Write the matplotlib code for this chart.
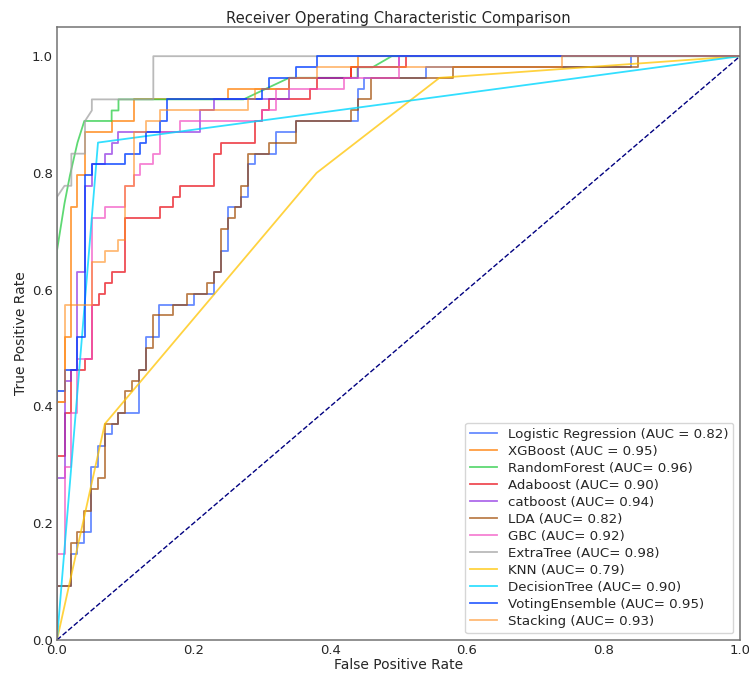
import matplotlib
matplotlib.use('Agg')
import matplotlib.pyplot as plt

# ROC points (fpr, tpr)
# staircase curves: each point is the top-left corner of a step (drawn steps-post)
lr_fpr = [0, 0, 0.02, 0.03, 0.04, 0.05, 0.06, 0.07, 0.08, 0.09, 0.12, 0.13, 0.15, 0.20, 0.23, 0.24, 0.25, 0.27, 0.28, 0.29, 0.32, 0.35, 0.44, 0.45, 0.54, 0.84, 1.0]
lr_tpr = [0, 0.092, 0.147, 0.166, 0.184, 0.296, 0.333, 0.352, 0.370, 0.389, 0.463, 0.519, 0.574, 0.593, 0.630, 0.667, 0.741, 0.759, 0.815, 0.833, 0.870, 0.889, 0.944, 0.963, 0.981, 1.0, 1.0]

xgb_fpr = [0, 0, 0.011, 0.021, 0.030, 0.041, 0.080, 0.112, 0.251, 0.340, 0.430, 0.440, 1.0]
xgb_tpr = [0, 0.407, 0.519, 0.741, 0.796, 0.870, 0.889, 0.926, 0.944, 0.963, 0.981, 1.0, 1.0]

ada_fpr = [0, 0, 0.011, 0.021, 0.041, 0.051, 0.061, 0.070, 0.080, 0.100, 0.151, 0.170, 0.180, 0.230, 0.240, 0.290, 0.300, 0.311, 0.370, 0.380, 0.430, 0.511, 1.0]
ada_tpr = [0, 0.315, 0.389, 0.463, 0.481, 0.574, 0.593, 0.611, 0.630, 0.722, 0.741, 0.759, 0.778, 0.833, 0.852, 0.889, 0.907, 0.926, 0.944, 0.963, 0.981, 1.0, 1.0]

cat_fpr = [0, 0, 0.011, 0.021, 0.030, 0.041, 0.051, 0.070, 0.080, 0.090, 0.210, 0.230, 0.340, 0.440, 0.500, 1.0]
cat_tpr = [0, 0.278, 0.444, 0.463, 0.630, 0.778, 0.815, 0.833, 0.852, 0.870, 0.907, 0.926, 0.963, 0.981, 1.0, 1.0]

lda_fpr = [0, 0, 0.02, 0.03, 0.04, 0.05, 0.06, 0.07, 0.09, 0.10, 0.11, 0.12, 0.13, 0.14, 0.17, 0.19, 0.22, 0.23, 0.24, 0.25, 0.26, 0.27, 0.28, 0.31, 0.35, 0.43, 0.44, 0.46, 0.58, 0.85, 1.0]
lda_tpr = [0, 0.092, 0.166, 0.184, 0.221, 0.258, 0.278, 0.370, 0.389, 0.426, 0.444, 0.463, 0.500, 0.556, 0.574, 0.593, 0.611, 0.630, 0.704, 0.722, 0.741, 0.778, 0.833, 0.852, 0.889, 0.907, 0.926, 0.963, 0.981, 1.0, 1.0]

gbc_fpr = [0, 0, 0.011, 0.021, 0.030, 0.051, 0.070, 0.100, 0.112, 0.121, 0.141, 0.151, 0.180, 0.300, 0.321, 0.420, 0.500, 1.0]
gbc_tpr = [0, 0.147, 0.296, 0.389, 0.481, 0.722, 0.741, 0.778, 0.796, 0.815, 0.833, 0.870, 0.889, 0.907, 0.944, 0.963, 1.0, 1.0]

vote_fpr = [0, 0, 0.011, 0.030, 0.041, 0.051, 0.100, 0.121, 0.131, 0.151, 0.161, 0.300, 0.311, 0.350, 0.380, 1.0]
vote_tpr = [0, 0.426, 0.463, 0.519, 0.796, 0.815, 0.833, 0.852, 0.870, 0.889, 0.926, 0.944, 0.963, 0.981, 1.0, 1.0]

stack_fpr = [0, 0, 0.011, 0.051, 0.070, 0.090, 0.100, 0.112, 0.131, 0.151, 0.280, 0.290, 0.340, 0.380, 0.740, 1.0]
stack_tpr = [0, 0.407, 0.574, 0.648, 0.667, 0.685, 0.778, 0.870, 0.889, 0.907, 0.926, 0.944, 0.963, 0.981, 1.0, 1.0]

# curves with sloped pieces (ties in the scores), drawn point to point
rf_fpr = [0, 0, 0.011, 0.019, 0.030, 0.040, 0.080, 0.080, 0.090, 0.090, 0.273, 0.340, 0.440, 0.440, 0.462, 0.490, 1.0]
rf_tpr = [0, 0.667, 0.748, 0.796, 0.852, 0.889, 0.889, 0.907, 0.907, 0.926, 0.926, 0.963, 0.963, 0.981, 0.981, 1.0, 1.0]

et_fpr = [0, 0, 0.011, 0.021, 0.021, 0.041, 0.041, 0.051, 0.051, 0.141, 0.141, 1.0]
et_tpr = [0, 0.759, 0.778, 0.778, 0.833, 0.833, 0.889, 0.907, 0.926, 0.926, 1.0, 1.0]

knn_fpr = [0, 0.07, 0.38, 0.56, 1.0]
knn_tpr = [0, 0.37, 0.80, 0.963, 1.0]

dt_fpr = [0, 0.06, 1.0]
dt_tpr = [0, 0.852, 1.0]

labels = ['Logistic Regression (AUC = 0.82)', 'XGBoost (AUC = 0.95)', 'RandomForest (AUC= 0.96)',
          'Adaboost (AUC= 0.90)', 'catboost (AUC= 0.94)', 'LDA (AUC= 0.82)', 'GBC (AUC= 0.92)',
          'ExtraTree (AUC= 0.98)', 'KNN (AUC= 0.79)', 'DecisionTree (AUC= 0.90)',
          'VotingEnsemble (AUC= 0.95)', 'Stacking (AUC= 0.93)']

plt.rcParams['font.family'] = 'DejaVu Sans'
plt.rcParams['font.size'] = 10
plt.rcParams['text.color'] = '0.15'
plt.rcParams['axes.labelcolor'] = '0.15'
plt.rcParams['xtick.color'] = '0.15'
plt.rcParams['ytick.color'] = '0.15'

fig = plt.figure(figsize=(7.49, 6.75), dpi=100)
ax = fig.add_axes([0.0761, 0.052, 0.912, 0.908])

lw = 1.3
ax.plot(lr_fpr, lr_tpr, drawstyle='steps-post', color='#023eff', alpha=0.6, lw=lw, label=labels[0])
ax.plot(xgb_fpr, xgb_tpr, drawstyle='steps-post', color='#ff7c00', alpha=0.75, lw=lw, label=labels[1])
ax.plot(rf_fpr, rf_tpr, color='#1ac938', alpha=0.7, lw=lw, label=labels[2])
ax.plot(ada_fpr, ada_tpr, drawstyle='steps-post', color='#e8000b', alpha=0.7, lw=lw, label=labels[3])
ax.plot(cat_fpr, cat_tpr, drawstyle='steps-post', color='#8b2be2', alpha=0.7, lw=lw, label=labels[4])
ax.plot(lda_fpr, lda_tpr, drawstyle='steps-post', color='#9f4800', alpha=0.7, lw=lw, label=labels[5])
ax.plot(gbc_fpr, gbc_tpr, drawstyle='steps-post', color='#f14cc1', alpha=0.7, lw=lw, label=labels[6])
ax.plot(et_fpr, et_tpr, color='#a3a3a3', alpha=0.75, lw=lw, label=labels[7])
ax.plot(knn_fpr, knn_tpr, color='#ffc400', alpha=0.75, lw=lw, label=labels[8])
ax.plot(dt_fpr, dt_tpr, color='#00d7ff', alpha=0.8, lw=lw, label=labels[9])
ax.plot(vote_fpr, vote_tpr, drawstyle='steps-post', color='#023eff', alpha=0.8, lw=lw, label=labels[10])
ax.plot(stack_fpr, stack_tpr, drawstyle='steps-post', color='#ff8c1a', alpha=0.6, lw=lw, label=labels[11])

# chance line
ax.plot([0, 1], [0, 1], color='navy', lw=1, linestyle='--')

ax.set_xlim(0, 1.0)
ax.set_ylim(0, 1.05)
ax.set_xticks([0, 0.2, 0.4, 0.6, 0.8, 1.0])
ax.set_yticks([0, 0.2, 0.4, 0.6, 0.8, 1.0])
ax.tick_params(length=0, pad=3, labelsize=9.5)
for s in ax.spines.values():
    s.set_color('0.45')
    s.set_linewidth(1.1)

ax.set_xlabel('False Positive Rate', labelpad=1)
ax.set_ylabel('True Positive Rate', labelpad=3)
ax.set_title('Receiver Operating Characteristic Comparison', fontsize=10.6, pad=3)
ax.legend(loc='lower right', fontsize=9.6, labelspacing=0.3)

plt.savefig('out.png', dpi=100)
